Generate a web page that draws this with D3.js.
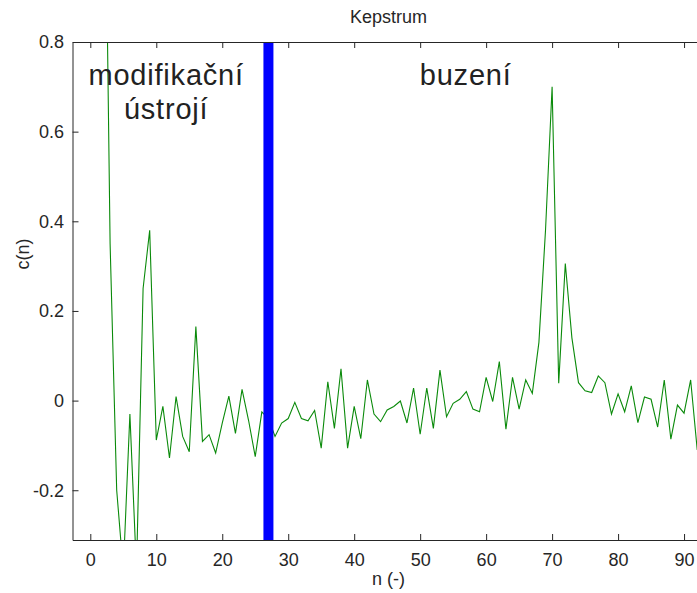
<!DOCTYPE html>
<html><head><meta charset="utf-8">
<script src="https://cdn.jsdelivr.net/npm/d3@7/dist/d3.min.js"></script>
<style>
html,body{margin:0;padding:0;background:#fff;}
svg{display:block;}
</style></head>
<body>
<script>
// ---- data ----
const nValues = d3.range(0, 93);
const cValues = [
 4.0, 2.8, 1.5, 0.35, -0.2, -0.38, -0.03, -0.38, 0.25, 0.38,
 -0.088, -0.013, -0.128, 0.009, -0.08, -0.114, 0.165, -0.091, -0.076, -0.117,
 -0.05, 0.01, -0.073, 0.025, -0.045, -0.125, -0.025, -0.04, -0.08, -0.05,
 -0.04, -0.004, -0.04, -0.045, -0.022, -0.106, 0.042, -0.062, 0.071, -0.106,
 -0.013, -0.085, 0.046, -0.03, -0.047, -0.021, -0.013, -0.001, -0.05, 0.028,
 -0.075, 0.028, -0.062, 0.068, -0.036, -0.006, 0.003, 0.02, -0.019, -0.025,
 0.052, -0.002, 0.087, -0.064, 0.052, -0.019, 0.046, 0.016, 0.13, 0.38,
 0.70, 0.039, 0.306, 0.14, 0.04, 0.022, 0.018, 0.055, 0.04, -0.03,
 0.015, -0.025, 0.033, -0.049, 0.008, 0.003, -0.059, 0.046, -0.086, -0.01,
 -0.028, 0.046, -0.11
];
const xTicks = [0, 10, 20, 30, 40, 50, 60, 70, 80, 90];
const yTicks = [-0.2, 0, 0.2, 0.4, 0.6, 0.8];
const yTickLabels = ["-0.2", "0", "0.2", "0.4", "0.6", "0.8"];
const dividerN = 27;
const xDomain = [-2.7, 93.1];
const yDomain = [-0.311, 0.8];
const titleText = "Kepstrum";
const xLabelText = "n (-)";
const yLabelText = "c(n)";
const regionLabels = [
  {lines: ["modifikační", "ústrojí"], n: 11.5},
  {lines: ["buzení"], n: 56.9}
];

// ---- layout ----
const W = 697, H = 593;
const L = 72.5, R = 704.5, T = 42, B = 540;
const tickFont = "'Liberation Sans', Arial, sans-serif";

const svg = d3.select("body").append("svg").attr("width", W).attr("height", H);
svg.append("rect").attr("width", W).attr("height", H).attr("fill", "#fff");

const x = d3.scaleLinear().domain(xDomain).range([L, R]);
const y = d3.scaleLinear().domain(yDomain).range([B, T]);

svg.append("clipPath").attr("id", "clip").append("rect")
  .attr("x", L).attr("y", T).attr("width", R - L).attr("height", B - T);

// data line
const line = d3.line().x((d, i) => x(nValues[i])).y(d => y(d));
svg.append("path").datum(cValues)
  .attr("clip-path", "url(#clip)")
  .attr("d", line)
  .attr("fill", "none")
  .attr("stroke", "#0a8a0a")
  .attr("stroke-width", 1.1);

// divider bar
svg.append("line")
  .attr("x1", x(dividerN)).attr("x2", x(dividerN))
  .attr("y1", T).attr("y2", B)
  .attr("stroke", "#0000ff").attr("stroke-width", 10);

// axes
const axColor = "#262626";
const gx = svg.append("g").attr("transform", `translate(0,${B})`)
  .call(d3.axisBottom(x).tickValues(xTicks).tickSizeInner(-6).tickSizeOuter(0).tickPadding(13));
const gxTop = svg.append("g").attr("transform", `translate(0,${T})`)
  .call(d3.axisTop(x).tickValues(xTicks).tickSizeInner(-6).tickSizeOuter(0).tickFormat(""));
const gy = svg.append("g").attr("transform", `translate(${L},0)`)
  .call(d3.axisLeft(y).tickValues(yTicks).tickSizeInner(-6).tickSizeOuter(0).tickPadding(8.5)
    .tickFormat((d, i) => yTickLabels[i]));

[gx, gxTop, gy].forEach(g => {
  g.select(".domain").attr("stroke", axColor).attr("stroke-width", 1);
  g.selectAll(".tick line").attr("stroke", axColor);
  g.selectAll("text").attr("fill", "#262626").style("font-family", tickFont).style("font-size", "18px");
});

// title and labels
svg.append("text").attr("x", 388.5).attr("y", 23).attr("text-anchor", "middle")
  .style("font-family", tickFont).style("font-size", "18px").attr("fill", "#262626").text(titleText);
svg.append("text").attr("x", 388.5).attr("y", 585).attr("text-anchor", "middle")
  .style("font-family", tickFont).style("font-size", "18px").attr("fill", "#262626").text(xLabelText);
svg.append("text").attr("transform", "translate(29,254) rotate(-90)").attr("text-anchor", "middle")
  .style("font-family", tickFont).style("font-size", "18px").attr("fill", "#262626").text(yLabelText);

// region annotations
regionLabels.forEach(r => {
  r.lines.forEach((s, i) => {
    svg.append("text").attr("x", x(r.n)).attr("y", 85 + i * 33.5).attr("text-anchor", "middle")
      .style("font-family", "'Liberation Sans', Arial, sans-serif").style("font-size", "29px")
      .style("letter-spacing", "0.8px")
      .attr("fill", "#222").text(s);
  });
});
</script>
</body></html>
